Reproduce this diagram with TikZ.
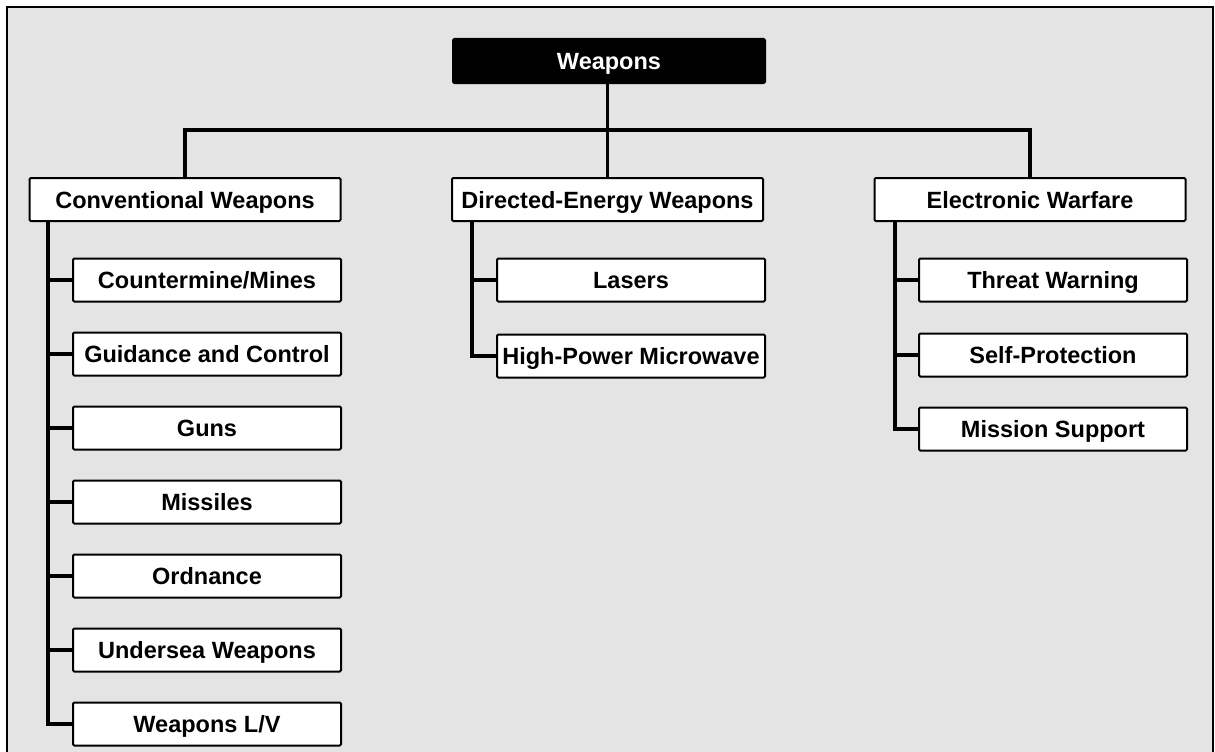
\documentclass[tikz,border=0pt]{standalone}
\usepackage{fontspec}
\setmainfont{Liberation Sans}
\begin{document}
\begin{tikzpicture}[x=1pt,y=-1pt,
  box/.style={draw=black,line width=2pt,fill=white,rounded corners=1.2pt,
    minimum height=43pt,inner sep=0pt,text height=17pt,text depth=0pt,
    font=\fontsize{23.5}{28}\selectfont\bfseries,text=black},
  rootbox/.style={box,fill=black,draw=black,text=white,minimum width=312pt,minimum height=44pt},
  catbox/.style={box,minimum width=311pt},
  leafbox/.style={box,minimum width=268pt},
  conn/.style={draw=black,line width=3.2pt}]
\useasboundingbox (0,0) rectangle (1215,752);
\fill[white] (0,0) rectangle (1215,752);
\draw[fill={rgb,255:red,228;green,228;blue,228},line width=1.4pt] (7,7) rectangle (1213,770);

\coordinate (bus) at (0,130);
\coordinate (spL) at (48,0);
\coordinate (spM) at (472,0);
\coordinate (spR) at (895,0);

% nodes
\node[rootbox] (root) at (609,61) {Weapons};
\node[catbox] (cw) at (185,199.5) {Conventional Weapons};
\node[catbox] (dew) at (607.5,199.5) {Directed-Energy Weapons};
\node[catbox] (ew) at (1030,199.5) {Electronic Warfare};

\node[leafbox] (l1) at (207,280) {Countermine/Mines};
\node[leafbox] (l2) at (207,354) {Guidance and Control};
\node[leafbox] (l3) at (207,428) {Guns};
\node[leafbox] (l4) at (207,502) {Missiles};
\node[leafbox] (l5) at (207,576) {Ordnance};
\node[leafbox] (l6) at (207,650) {Undersea Weapons};
\node[leafbox] (l7) at (207,724) {Weapons L/V};

\node[leafbox] (m1) at (631,280) {Lasers};
\node[leafbox] (m2) at (631,356) {High-Power Microwave};

\node[leafbox] (r1) at (1053,280) {Threat Warning};
\node[leafbox] (r2) at (1053,355) {Self-Protection};
\node[leafbox] (r3) at (1053,429) {Mission Support};

% connectors top level
\draw[conn] (root.south -| dew.north) -- (dew.north);
\draw[conn] (cw.north) -- (cw.north |- bus) -- (ew.north |- bus) -- (ew.north);

% connectors to leaves
\draw[conn] (cw.south -| spL) |- (l7.west);
\foreach \n in {l1,l2,l3,l4,l5,l6} \draw[conn] (\n.west -| spL) -- (\n.west);
\draw[conn] (dew.south -| spM) |- (m2.west);
\draw[conn] (m1.west -| spM) -- (m1.west);
\draw[conn] (ew.south -| spR) |- (r3.west);
\foreach \n in {r1,r2} \draw[conn] (\n.west -| spR) -- (\n.west);
\end{tikzpicture}
\end{document}
